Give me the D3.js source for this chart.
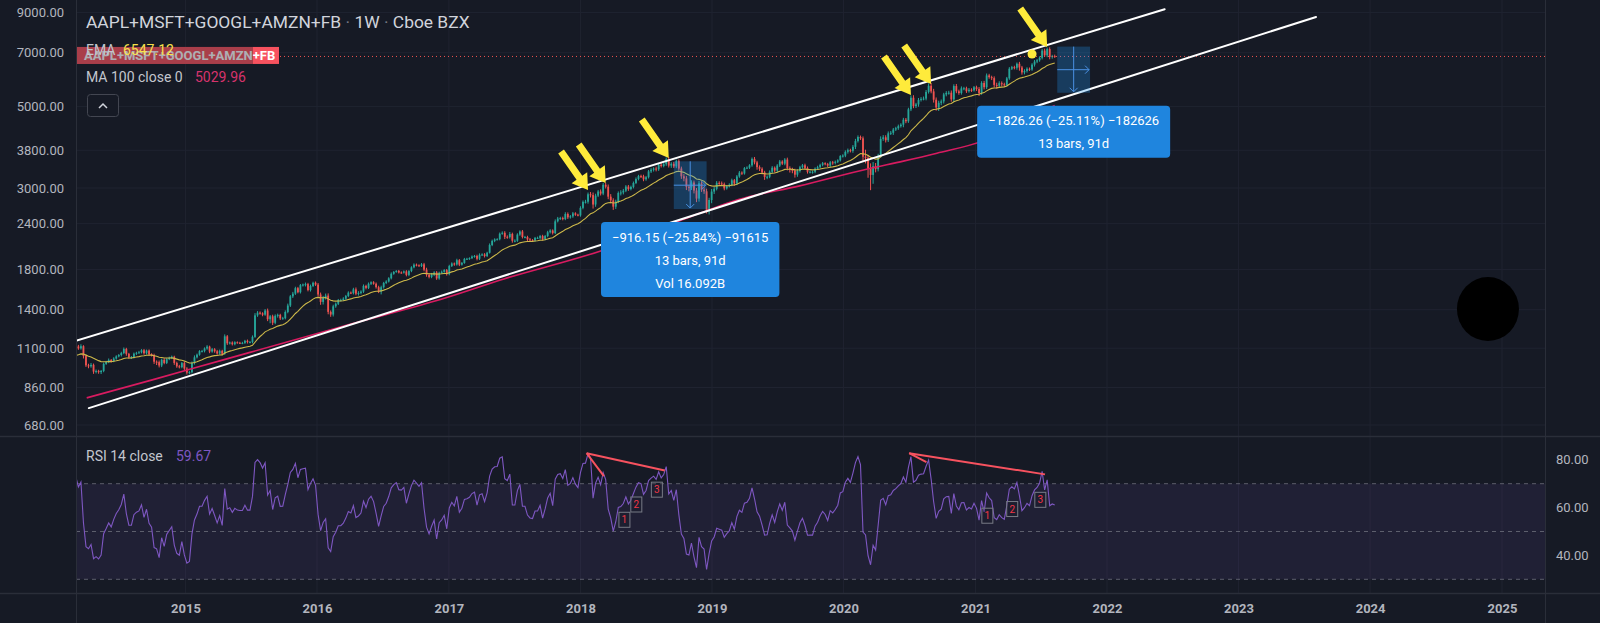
<!DOCTYPE html>
<html><head><meta charset="utf-8">
<script src="https://cdn.jsdelivr.net/npm/d3@7"></script>
<style>
html,body{margin:0;padding:0;background:#161a25;overflow:hidden}
svg{display:block}
text{font-family:"Trebuchet MS",Roboto,"Noto Sans",sans-serif}
</style></head><body>
<svg id="c" width="1600" height="623"></svg>
<script>
// ---------------- DATA ----------------
const firstWeek = "2014-03-03"; // weekly bars, Mondays
// 15 weeks before the first visible bar (indicator warm-up only, not drawn)
const warmupCloses = [1000,1028,1022,1012,1040,1060,1058,1068,1080,1075,1030,1035,1070,1082,1090];
const close2014 = [1112,1099,1114,1047,988, 982,991,950,954, 947,954,997,1009, 1022,1014,1031,1045,1054, 1067,1095,1062,1039, 1039,1063,1069,1072, 1086,1066,1084,1060,1053, 1011,1008,987,1023, 1003,1027,1035,1043, 1003,982,977,1002,968];
const close2015 = [944,947,1002,1039, 1056,1080,1080,1098, 1111,1077,1093,1079,1064, 1082,1062,1185,1134, 1140,1128,1142,1138, 1137,1137,1152,1143,1143, 1181,1351,1374,1368, 1357,1393,1319,1343,1290, 1347,1355,1326,1327, 1380,1437,1522,1548, 1602,1562,1633,1639,1643, 1583,1624,1657,1638];
const close2016 = [1540,1470,1510,1529, 1381,1358,1430,1453,1487, 1488,1500,1525,1558, 1553,1590,1548,1555, 1568,1625,1605,1647,1662, 1647,1612,1569,1611, 1655,1670,1704,1753, 1773,1785,1767,1766,1779, 1741,1783,1825,1856, 1849,1842,1860,1799,1742, 1719,1745,1767,1703, 1764,1775,1794,1749];
const close2017 = [1840,1870,1858,1909,1856, 1876,1923,1926,1934, 1953,1960,1926,1974, 1979,1959,2000,2099, 2154,2174,2177,2252,2266, 2210,2205,2250,2156, 2156,2241,2285,2207,2207, 2174,2163,2161,2195, 2195,2220,2181,2220, 2274,2299,2262,2435,2478, 2485,2470,2549,2497, 2512,2559,2538,2527];
const close2018 = [2649,2750,2753,2884,2870, 2705,2860,2935,2897, 3061,3024,2842,2777, 2669,2755,2907,2917,2950, 3027,2980,3020,3096, 3173,3232,3227,3168, 3210,3329,3363,3388,3373, 3470,3442,3482,3592, 3452,3491,3435,3551, 3389,3228,3186,3022,3011, 3105,2953,2808,3090, 2969,2939,2615,2783];
const close2019 = [2934, 2985,3098,3087,3076, 2993,3032,3061,3149, 3085,3224,3303,3285, 3397,3408,3458,3600,3522, 3419,3384,3308,3215, 3219,3320,3406,3345, 3452,3541,3494,3585,3398, 3372,3344,3261,3338, 3416,3459,3402,3320,3321, 3321,3387,3418,3468, 3503,3486,3452,3523, 3511,3535,3566,3664];
const close2020 = [3675, 3763,3802,3786,3883, 4025,4129,4094,3649, 3622,3385,3256,3440,3376, 3662,4080,4120,4046, 4224,4239,4326,4362, 4418,4460,4600,4557,4910, 5280,5011,5063,5209, 5242,5252,5475,5691,5494, 5216,4969,5115,5160, 5391,5442,5449,5226, 5681,5498,5439,5600,5602, 5501,5551,5532,5637];
const close2021 = [5578,5434,5792,5641, 6072,6007,5969,5722, 5695,5784,5744,5722,5961, 6332,6394,6370,6532, 6381,6187,6244,6330, 6301,6496,6622,6676,6780, 7094,6888,7162,6812, 6854,6838];
// wick above body top / below body bottom, in tenths of a percent
const wickUp2014 = [8,10,12,6,9,10,12,8,9,7,6,8,7,9,6,8,7,6,8,9,7,6,8,7,6,9,7,8,6,7,5,9,8,10,7,9,6,8,7,6,8,9,7,10];
const wickDn2014 = [7,9,8,15,10,12,9,14,11,10,12,8,6,7,8,6,7,6,9,7,12,9,10,7,8,6,7,9,8,10,8,14,18,12,10,8,7,6,7,12,9,8,7,9];
const wickUp2015 = [9,8,10,12,7,6,8,7,9,6,8,7,9,8,7,12,8,6,7,6,5,6,7,6,8,7,9,14,10,8,7,9,12,8,10,9,8,7,9,10,12,8,11,9,8,7,6,10,8,9,7,8];
const wickDn2015 = [12,10,8,9,7,6,7,8,8,10,7,9,8,7,9,6,10,7,8,7,6,7,8,6,9,7,8,6,9,8,10,7,12,25,14,9,11,10,8,7,8,9,10,8,7,8,9,12,8,9,7,8];
const wickUp2016 = [10,12,11,13,14,9,10,8,7,8,9,7,8,7,10,12,11,8,9,7,8,6,7,8,9,10,7,8,7,9,6,5,6,7,6,8,6,7,8,7,6,8,9,12,9,10,8,9,7,8,6,7];
const wickDn2016 = [14,18,16,12,15,14,12,9,8,9,7,8,7,6,8,10,12,9,8,9,7,8,6,9,10,18,8,7,6,7,6,5,6,7,6,9,8,7,6,7,6,7,10,12,9,8,10,9,8,7,6,9];
const wickUp2017 = [8,7,6,9,7,6,7,6,5,7,6,8,9,7,8,6,10,8,7,6,8,9,10,9,12,8,9,8,7,9,7,8,9,7,6,8,7,8,7,9,8,7,12,10,8,9,11,10,8,9,7,6];
const wickDn2017 = [7,6,8,7,9,6,5,6,7,6,7,10,8,7,9,6,5,7,8,6,7,6,14,10,9,12,10,7,8,9,8,11,10,9,8,7,9,10,8,7,8,9,6,7,9,8,7,10,8,9,7,6];
const wickUp2018 = [10,9,12,11,14,16,12,10,13,11,12,14,16,13,12,10,14,11,9,10,8,9,10,8,9,10,8,9,10,8,12,9,10,8,11,14,10,12,9,10,12,14,15,13,14,12,16,14,13,15,16,14];
const wickDn2018 = [8,9,10,12,15,25,14,9,12,10,11,16,18,20,14,10,15,12,9,11,8,9,7,8,10,12,9,8,10,11,13,10,9,8,10,12,14,10,11,13,16,18,20,24,16,18,22,19,14,16,22,28];
const wickUp2019 = [16,12,11,10,12,9,8,9,10,8,9,10,8,7,8,7,9,12,10,11,9,10,8,9,10,8,9,10,8,9,12,11,10,12,11,9,8,10,9,8,7,8,9,7,8,6,7,8,9,8,7,6];
const wickDn2019 = [20,15,10,9,11,12,8,7,9,14,10,8,9,7,6,8,9,12,16,14,12,18,14,9,10,12,11,9,8,10,14,20,16,18,13,10,9,8,11,10,12,9,8,7,9,8,10,11,12,9,8,7];
const wickUp2020 = [8,9,10,9,11,14,10,9,12,45,20,34,26,20,15,16,14,13,12,11,10,9,10,9,12,11,10,14,16,10,12,11,13,12,15,18,16,14,13,12,10,11,12,14,11,13,10,12,9,10,11,9,8];
const wickDn2020 = [9,10,11,10,12,14,9,10,27,34,55,91,54,20,14,10,12,14,11,10,13,9,10,9,16,12,10,11,13,12,14,10,9,11,10,12,18,20,22,15,13,12,11,14,16,12,11,10,12,11,9,10,8];
const wickUp2021 = [10,12,11,13,12,10,9,11,14,12,11,10,9,10,8,9,8,12,10,11,9,8,9,10,8,9,10,12,9,11,8,9];
const wickDn2021 = [12,18,10,14,11,10,12,16,18,14,13,12,10,9,8,10,12,20,14,12,10,9,8,12,10,9,10,11,12,14,10,9];
// MA 100
const maDates  = ["2014-04-02","2014-10-06","2015-04-06","2015-10-05","2016-04-04","2016-11-26","2017-06-05","2018-02-24","2018-11-28","2019-03-15","2019-09-01","2020-03-13","2020-06-15","2020-09-16","2021-01-22","2021-05-01","2021-08-09"];
const maValues = [806,905,1016,1140,1280,1480,1700,2020,2560,2790,3040,3390,3550,3730,4030,4480,5030];
// axis ticks
const priceTicks = [680,860,1100,1400,1800,2400,3000,3800,5000,7000,9000];
const rsiTicks = [40,60,80];
const rsiLevels = [70,50,30];
const yearTicks = [2015,2016,2017,2018,2019,2020,2021,2022,2023,2024,2025];
// drawings
const channelUpper = [["2014-03-03",1152],["2022-06-10",9193]];
const channelLower = [["2014-04-08",756],["2023-08-04",8755]];
const arrowTips = [["2018-01-22",2962],["2018-03-12",3095],["2018-09-03",3621],["2020-07-06",5373],["2020-08-31",5753],["2021-07-19",7257]];
const dotPoint = ["2021-06-07",6945];
const measureFrom = ["2018-09-17","2021-08-16"];
const measureTo = ["2018-12-17","2021-11-15"];
const measureTop = [3545.50,7273.06];
const measureBottom = [2629.35,5446.80];
const measureText = [["−916.15 (−25.84%) −91615","13 bars, 91d","Vol 16.092B"],["−1826.26 (−25.11%) −182626","13 bars, 91d"]];
const rsiDivLines = [[["2018-01-18",82.75],["2018-08-23",75.5]],[["2018-01-18",82.75],["2018-03-07",73.2]],[["2020-07-01",82.75],["2021-07-13",73.9]],[["2020-07-01",82.75],["2020-08-18",79.0]]];
const waveLabels = [["2018-05-03",54.9,"1"],["2018-06-05",61.3,"2"],["2018-08-01",67.5,"3"],["2021-02-03",56.6,"1"],["2021-04-13",59.4,"2"],["2021-06-30",63.25,"3"]];
const blob = ["2024-11-23",1406];

// ---------------- SETUP ----------------
const svg = d3.select('#c');
const parse = d3.utcParse("%Y-%m-%d");
const PL=76, PR=1545, PB=436, RT=436, RB=593;
const BG="#161a25", GRID="#1f2330", TXT="#b2b5be";
const UP="#26a69a", DN="#ef5350";

const x = d3.scaleUtc().domain([new Date(Date.UTC(2016,0,1)), new Date(Date.UTC(2025,0,1))]).range([317,1502]);
const y = d3.scaleLog().domain([680,3000]).range([425,188]);
const r = d3.scaleLinear().domain([30,70]).range([579.3,483.7]);

const closes = [...close2014,...close2015,...close2016,...close2017,...close2018,...close2019,...close2020,...close2021];
const ups = [...wickUp2014,...wickUp2015,...wickUp2016,...wickUp2017,...wickUp2018,...wickUp2019,...wickUp2020,...wickUp2021];
const dns = [...wickDn2014,...wickDn2015,...wickDn2016,...wickDn2017,...wickDn2018,...wickDn2019,...wickDn2020,...wickDn2021];

function emaCalc(v,n){const a=2/(n+1);let e=v[0];return v.map((d,i)=>(e=i===0?d:a*d+(1-a)*e));}
function rsiCalc(v,n){const out=new Array(v.length).fill(null);let g=0,l=0;
  for(let i=1;i<=n;i++){const c=v[i]-v[i-1];if(c>0)g+=c;else l-=c;}
  g/=n;l/=n;out[n]=l===0?100:100-100/(1+g/l);
  for(let i=n+1;i<v.length;i++){const c=v[i]-v[i-1];g=(g*(n-1)+Math.max(c,0))/n;l=(l*(n-1)+Math.max(-c,0))/n;out[i]=l===0?100:100-100/(1+g/l);}
  return out;}
const all=[...warmupCloses,...closes];
const emaAll=emaCalc(all,20), rsiAll=rsiCalc(all,14), W0=warmupCloses.length;
const t0=parse(firstWeek);
const bars=closes.map((c,i)=>{const o=i===0?warmupCloses[W0-1]:closes[i-1];
  const hi=Math.max(o,c)*(1+(ups[i]??8)/1000), lo=Math.min(o,c)*(1-(dns[i]??8)/1000);
  return {date:d3.utcMonday.offset(t0,i),o,c,hi,lo,ema:emaAll[W0+i],rsi:rsiAll[W0+i]};});

const defs=svg.append('defs');
defs.append('clipPath').attr('id','clipP').append('rect').attr('x',PL).attr('y',0).attr('width',PR-PL).attr('height',PB);
defs.append('clipPath').attr('id','clipR').append('rect').attr('x',PL).attr('y',RT).attr('width',PR-PL).attr('height',RB-RT);

svg.append('rect').attr('width',1600).attr('height',623).attr('fill',BG);

// grid
const gridG=svg.append('g');
gridG.selectAll('line.h').data(priceTicks).join('line').attr('x1',PL).attr('x2',PR).attr('y1',d=>y(d)).attr('y2',d=>y(d)).attr('stroke',GRID);
gridG.selectAll('line.v').data(yearTicks).join('line').attr('x1',d=>x(new Date(Date.UTC(d,0,1)))).attr('x2',d=>x(new Date(Date.UTC(d,0,1)))).attr('y1',0).attr('y2',RB).attr('stroke',GRID);

// RSI band + levels
svg.append('rect').attr('x',PL).attr('width',PR-PL).attr('y',r(70)).attr('height',r(30)-r(70)).attr('fill','rgba(126,87,194,0.1)');
svg.selectAll('line.lvl').data(rsiLevels).join('line').attr('x1',PL).attr('x2',PR).attr('y1',d=>r(d)).attr('y2',d=>r(d))
  .attr('stroke','#787b86').attr('stroke-opacity',0.7).attr('stroke-dasharray','4,4');

// candles
const cg=svg.append('g').attr('clip-path','url(#clipP)');
cg.selectAll('line.w').data(bars).join('line').attr('x1',d=>x(d.date)).attr('x2',d=>x(d.date))
  .attr('y1',d=>y(d.hi)).attr('y2',d=>y(d.lo)).attr('stroke',d=>d.c>=d.o?UP:DN).attr('stroke-width',1);
cg.selectAll('rect.b').data(bars).join('rect').attr('x',d=>x(d.date)-0.9).attr('width',1.8)
  .attr('y',d=>y(Math.max(d.o,d.c))).attr('height',d=>Math.max(1,Math.abs(y(d.o)-y(d.c)))).attr('fill',d=>d.c>=d.o?UP:DN);

// EMA & MA
cg.append('path').datum(bars).attr('d',d3.line().x(d=>x(d.date)).y(d=>y(d.ema))).attr('fill','none').attr('stroke','#cdb94a').attr('stroke-width',1.1);
const maPts=maDates.map((d,i)=>[parse(d),maValues[i]]);
cg.append('path').datum(maPts).attr('d',d3.line().curve(d3.curveMonotoneX).x(d=>x(d[0])).y(d=>y(d[1]))).attr('fill','none').attr('stroke','#d81b60').attr('stroke-width',1.6);

// last price dotted line
const last=bars[bars.length-1];
cg.append('line').attr('x1',PL).attr('x2',PR).attr('y1',y(last.c)).attr('y2',y(last.c)).attr('stroke',DN).attr('stroke-dasharray','1,3').attr('stroke-width',1);

// channel lines
[channelUpper,channelLower].forEach(ch=>{
  cg.append('line').attr('x1',x(parse(ch[0][0]))).attr('y1',y(ch[0][1])).attr('x2',x(parse(ch[1][0]))).attr('y2',y(ch[1][1]))
    .attr('stroke','#ffffff').attr('stroke-width',2).attr('stroke-linecap','round');
});

// measure boxes
measureFrom.forEach((f,k)=>{
  const x0=x(parse(f)), x1=x(parse(measureTo[k])), yt=y(measureTop[k]), yb=y(measureBottom[k]);
  const xm=(x0+x1)/2, ym=(yt+yb)/2;
  cg.append('rect').attr('x',x0).attr('y',yt).attr('width',x1-x0).attr('height',yb-yt).attr('fill','rgba(33,150,243,0.28)');
  const lc='#4a90e2';
  cg.append('line').attr('x1',xm).attr('x2',xm).attr('y1',yt).attr('y2',yb-1).attr('stroke',lc);
  cg.append('path').attr('d',`M${xm-4},${yb-5}L${xm},${yb-1}L${xm+4},${yb-5}`).attr('fill','none').attr('stroke',lc);
  cg.append('line').attr('x1',x0).attr('x2',x1-1).attr('y1',ym).attr('y2',ym).attr('stroke',lc);
  cg.append('path').attr('d',`M${x1-5},${ym-4}L${x1-1},${ym}L${x1-5},${ym+4}`).attr('fill','none').attr('stroke',lc);
  // label
  const lines=measureText[k];
  const lg=svg.append('g');
  const rect=lg.append('rect').attr('fill','#1f85de').attr('rx',4);
  const tx=lines.map((s,j)=>lg.append('text').attr('x',xm).attr('y',yb+13+15+j*23).attr('text-anchor','middle')
     .attr('dominant-baseline','central').attr('fill','#ffffff').attr('font-size',13).text(s));
  const wmax=d3.max(tx,t=>t.node().getComputedTextLength());
  const w=wmax+22, h=lines.length===3?75:52;
  rect.attr('x',xm-w/2).attr('y',yb+13).attr('width',w).attr('height',h);
});

// arrows
const ang=55*Math.PI/180, L=47, hl=15, sw=7, hw=19;
const arrowShape=[[-L,-sw/2],[-hl,-sw/2],[-hl,-hw/2],[0,0],[-hl,hw/2],[-hl,sw/2],[-L,sw/2]];
arrowTips.forEach(a=>{
  const tx=x(parse(a[0])), ty=y(a[1]);
  svg.append('polygon').attr('points',arrowShape.map(p=>p.join(',')).join(' '))
    .attr('transform',`translate(${tx},${ty}) rotate(${ang*180/Math.PI})`).attr('fill','#ffeb3b');
});
svg.append('circle').attr('cx',x(parse(dotPoint[0]))).attr('cy',y(dotPoint[1])).attr('r',4.5).attr('fill','#ffeb3b');

// RSI line
const rg=svg.append('g').attr('clip-path','url(#clipR)');
rg.append('path').datum(bars.filter(d=>d.rsi!=null)).attr('d',d3.line().x(d=>x(d.date)).y(d=>r(d.rsi)))
  .attr('fill','none').attr('stroke','#7e57c2').attr('stroke-width',1.1);
rsiDivLines.forEach(l=>{
  rg.append('line').attr('x1',x(parse(l[0][0]))).attr('y1',r(l[0][1])).attr('x2',x(parse(l[1][0]))).attr('y2',r(l[1][1]))
    .attr('stroke','#f7525f').attr('stroke-width',2);
});
waveLabels.forEach(w=>{
  const cx=x(parse(w[0])), cy=r(w[1]);
  rg.append('rect').attr('x',cx-5.5).attr('y',cy-7.5).attr('width',11).attr('height',15).attr('fill','rgba(22,26,37,0.3)').attr('stroke','#787b86').attr('stroke-width',1);
  rg.append('text').attr('x',cx).attr('y',cy).attr('text-anchor','middle').attr('dominant-baseline','central')
    .attr('fill','#f23645').attr('font-size',10).text(w[2]);
});

// blob
svg.append('ellipse').attr('cx',x(parse(blob[0]))).attr('cy',y(blob[1])).attr('rx',31).attr('ry',32).attr('fill','#000000');

// pane separators / frame
svg.append('line').attr('x1',0).attr('x2',1600).attr('y1',PB+0.5).attr('y2',PB+0.5).attr('stroke','#2a2e39').attr('stroke-width',1.5);
svg.append('line').attr('x1',0).attr('x2',1600).attr('y1',RB+0.5).attr('y2',RB+0.5).attr('stroke','#2a2e39').attr('stroke-width',1.5);
svg.append('line').attr('x1',PL+0.5).attr('x2',PL+0.5).attr('y1',0).attr('y2',623).attr('stroke','#2a2e39');
svg.append('line').attr('x1',PR+0.5).attr('x2',PR+0.5).attr('y1',0).attr('y2',623).attr('stroke','#2a2e39');

// axes
const ya=svg.append('g').attr('transform',`translate(${PL},0)`)
  .call(d3.axisLeft(y).tickValues(priceTicks).tickFormat(d3.format('.2f')).tickSize(0).tickPadding(12));
ya.select('.domain').remove();
ya.selectAll('text').attr('fill',TXT).attr('font-size',13).style('font-family','"Trebuchet MS",Roboto,sans-serif');
const ra=svg.append('g').attr('transform',`translate(${PR},0)`)
  .call(d3.axisRight(r).tickValues(rsiTicks).tickFormat(d3.format('.2f')).tickSize(0).tickPadding(11));
ra.select('.domain').remove();
ra.selectAll('text').attr('fill',TXT).attr('font-size',13).style('font-family','"Trebuchet MS",Roboto,sans-serif');
const xa=svg.append('g').attr('transform',`translate(0,${RB})`)
  .call(d3.axisBottom(x).tickValues(yearTicks.map(d=>new Date(Date.UTC(d,0,1)))).tickFormat(d3.utcFormat('%Y')).tickSize(0).tickPadding(11));
xa.select('.domain').remove();
xa.selectAll('text').attr('fill',TXT).attr('font-size',13).attr('font-weight','bold').style('font-family','"Trebuchet MS",Roboto,sans-serif');

// price label (red)
const yl=y(last.c);
svg.append('rect').attr('x',PL+1).attr('y',yl-9.5).attr('width',202).attr('height',17).attr('fill','#f7525f');
svg.append('text').attr('x',PL+8).attr('y',yl-1).attr('dominant-baseline','central').attr('fill','#ffffff')
  .attr('font-size',13).attr('font-weight','bold').text('AAPL+MSFT+GOOGL+AMZN+FB');
svg.append('rect').attr('x',PL+1).attr('y',yl-9.5).attr('width',176).attr('height',17).attr('fill','rgba(22,26,37,0.35)');

// legends
function fit(t,w){const cur=t.node().getComputedTextLength();const fs=+t.attr('font-size');t.attr('font-size',fs*w/cur);}
const title=svg.append('text').attr('x',86).attr('y',28).attr('fill','#d1d4dc').attr('font-size',18);
title.append('tspan').text('AAPL+MSFT+GOOGL+AMZN+FB');
title.append('tspan').attr('fill','#787b86').text(' · ');
title.append('tspan').text('1W');
title.append('tspan').attr('fill','#787b86').text(' · ');
title.append('tspan').text('Cboe BZX');
fit(title,384);
const ema=svg.append('text').attr('x',86).attr('y',55).attr('font-size',14).attr('fill','#c3c6ce');
ema.append('tspan').text('EMA');
ema.append('tspan').attr('x',123).attr('fill','#f7e04b').text('6547.12');
const ma=svg.append('text').attr('x',86).attr('y',82).attr('font-size',14).attr('fill','#c3c6ce');
ma.append('tspan').text('MA 100 close 0');
ma.append('tspan').attr('x',195).attr('fill','#d6336c').text('5029.96');
const rs=svg.append('text').attr('x',86).attr('y',461).attr('font-size',14).attr('fill','#c3c6ce');
rs.append('tspan').text('RSI 14 close');
rs.append('tspan').attr('x',176).attr('fill','#7e57c2').text('59.67');
// collapse button
svg.append('rect').attr('x',87.5).attr('y',94.5).attr('width',31).attr('height',22).attr('rx',3).attr('fill','#161a25').attr('stroke','#434651');
svg.append('path').attr('d','M99,108L103,104L107,108').attr('fill','none').attr('stroke','#d1d4dc').attr('stroke-width',1.5);
</script></body></html>
